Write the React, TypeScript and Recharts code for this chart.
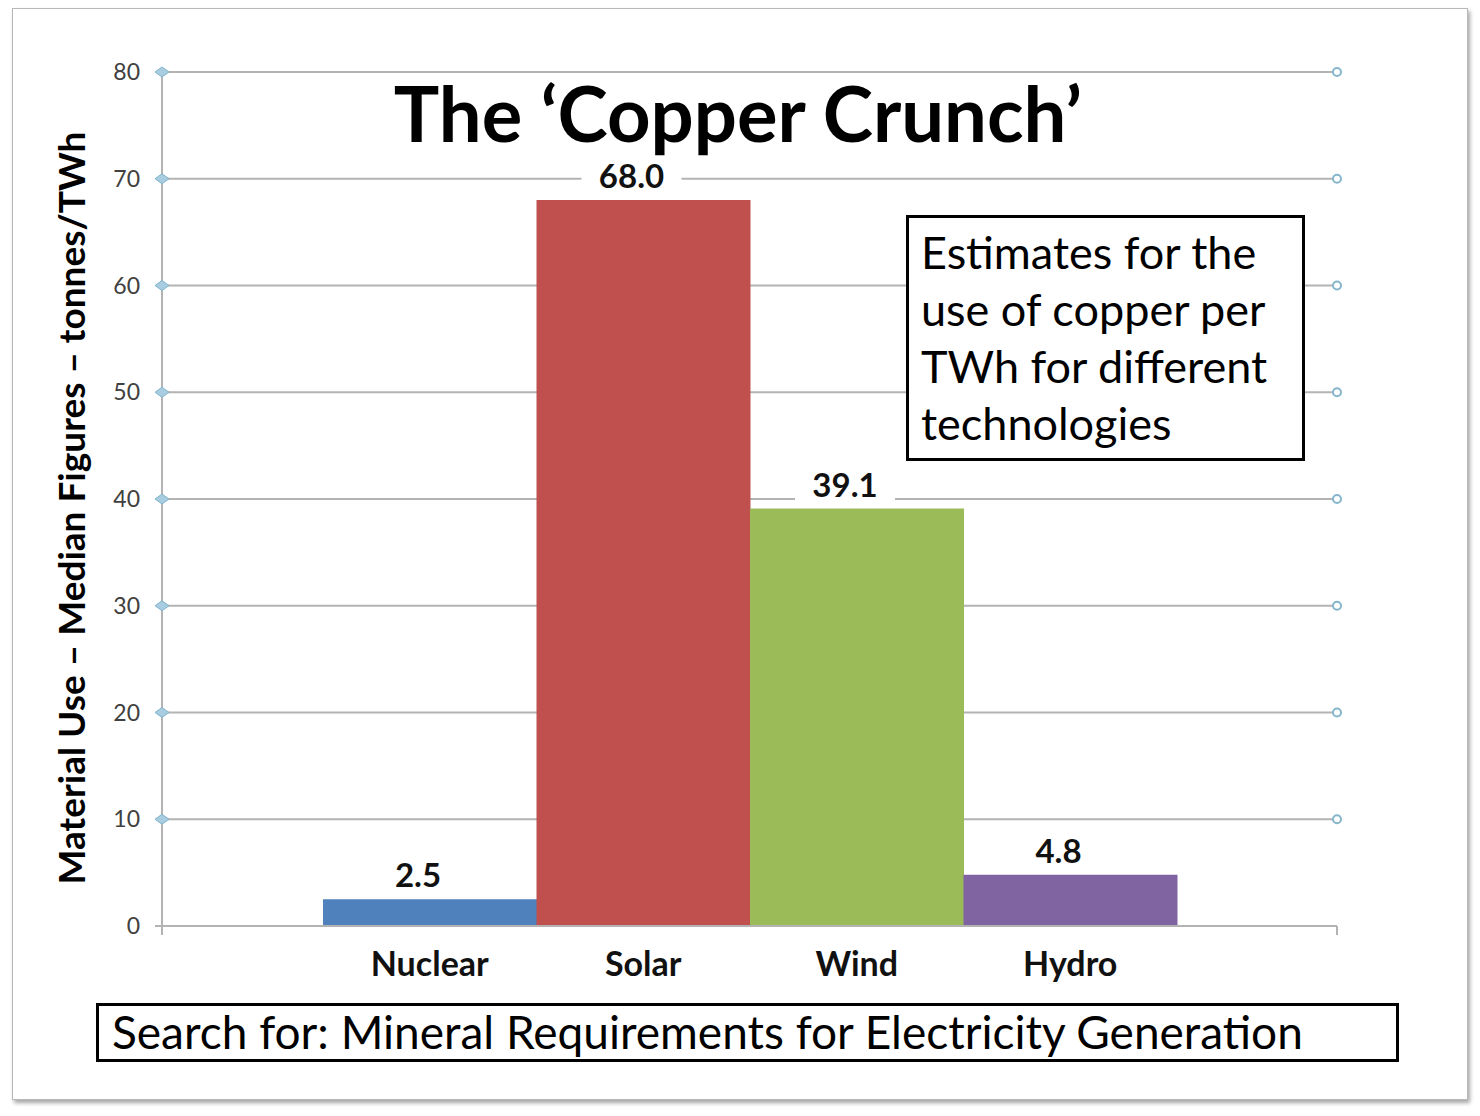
import React from "react";
import { BarChart, Bar, XAxis, YAxis, CartesianGrid, Cell, LabelList } from "recharts";

const technologies = ["Nuclear", "Solar", "Wind", "Hydro"];
const copperUse = [2.5, 68.0, 39.1, 4.8];
const barColors = ["#4f81bd", "#c0504d", "#9bbb59", "#8064a2"];
const yTicks = [0, 10, 20, 30, 40, 50, 60, 70, 80];

const chartTitle = "The \u2018Copper Crunch\u2019";
const yAxisTitle = "Material Use \u2013 Median Figures \u2013 tonnes/TWh";
const noteLines = ["Estimates for the", "use of copper per", "TWh for different", "technologies"];
const footerText = "Search for: Mineral Requirements for Electricity Generation";

const rows = technologies.map((name, i) => ({ name, value: copperUse[i], color: barColors[i] }));

const FONT = "Lato, 'Open Sans', sans-serif";
const GRID = "#b3b3b3";

function LeftTick({ x, y, payload }: any) {
  const isZero = payload.value === 0;
  return (
    <g>
      <text x={x - 22} y={y} dy={8} textAnchor="end" fontSize={23} fill="#404040" fontFamily={FONT}>
        {payload.value}
      </text>
      {isZero ? (
        <>
          <line x1={x - 7} y1={y} x2={x} y2={y} stroke={GRID} strokeWidth={2} />
          <line x1={x} y1={y} x2={x} y2={y + 9} stroke={GRID} strokeWidth={2} />
        </>
      ) : (
        <polygon
          points={`${x - 7},${y} ${x},${y - 5} ${x + 7},${y} ${x},${y + 5}`}
          fill="#a9cde0"
          stroke="#7fb3cc"
          strokeWidth={1}
        />
      )}
    </g>
  );
}

// gridline with the small circle marker at its right end (tick mark down on the base line)
function GridLine(props: any) {
  const { x1, y1, x2, y2, y, height } = props;
  const isBase = Math.abs(y1 - (y + height)) < 1;
  return (
    <g>
      <line x1={x1} y1={y1} x2={x2} y2={y2} stroke={GRID} strokeWidth={2} />
      {isBase ? (
        <line x1={x2} y1={y2} x2={x2} y2={y2 + 9} stroke={GRID} strokeWidth={2} />
      ) : (
        <circle cx={x2} cy={y2} r={4} fill="#ffffff" stroke="#86b6cc" strokeWidth={2} />
      )}
    </g>
  );
}

function CategoryTick({ x, y, payload }: any) {
  return (
    <text x={x} y={y} dy={42} textAnchor="middle" fontSize={34} fontWeight={700} fill="#111" fontFamily={FONT}>
      {payload.value}
    </text>
  );
}

function ValueLabel({ x, y, width, value }: any) {
  const cx = x + width / 2 - 12;
  const cy = y - 24;
  return (
    <g>
      <rect x={cx - 50} y={cy - 18} width={100} height={36} fill="#ffffff" />
      <text x={cx} y={cy} dy={12} textAnchor="middle" fontSize={33} fontWeight={700} fill="#111" fontFamily={FONT}>
        {Number(value).toFixed(1)}
      </text>
    </g>
  );
}

export default function App() {
  return (
    <div style={{ position: "absolute", left: 0, top: 0, width: 1480, height: 1116, background: "#ffffff", fontFamily: FONT }}>
      <div
        style={{
          position: "absolute",
          left: 12,
          top: 8,
          width: 1454,
          height: 1090,
          border: "1px solid #b8b8b8",
          boxShadow: "2px 3px 4px rgba(0,0,0,0.35)",
          background: "#ffffff",
        }}
      />
      <div style={{ position: "absolute", left: 0, top: 0 }}>
        <BarChart
          width={1480}
          height={1116}
          data={rows}
          barCategoryGap={0}
          margin={{ top: 72, right: 143, bottom: 150, left: 102 }}
        >
          <CartesianGrid vertical={false} horizontal={(p: any) => <GridLine key={p.key} {...p} />} />
          <XAxis
            dataKey="name"
            padding={{ left: 161, right: 160 }}
            height={40}
            axisLine={{ stroke: GRID, strokeWidth: 2 }}
            tickLine={false}
            tick={<CategoryTick />}
          />
          <YAxis
            domain={[0, 80]}
            ticks={yTicks}
            width={60}
            tickSize={0}
            tickMargin={0}
            axisLine={{ stroke: GRID, strokeWidth: 2 }}
            tickLine={false}
            tick={<LeftTick />}
          />
          <Bar dataKey="value" isAnimationActive={false}>
            {rows.map((r) => (
              <Cell key={r.name} fill={r.color} />
            ))}
            <LabelList dataKey="value" content={<ValueLabel />} />
          </Bar>
        </BarChart>
      </div>

      <div
        style={{
          position: "absolute",
          left: 738,
          top: 112,
          transform: "translate(-50%, -50%)",
          fontSize: 76,
          fontWeight: 700,
          color: "#000",
          whiteSpace: "nowrap",
        }}
      >
        {chartTitle}
      </div>

      <div
        style={{
          position: "absolute",
          left: 70,
          top: 508,
          transform: "translate(-50%, -50%) rotate(-90deg)",
          fontSize: 37,
          fontWeight: 700,
          color: "#000",
          whiteSpace: "nowrap",
        }}
      >
        {yAxisTitle}
      </div>

      <div
        style={{
          position: "absolute",
          left: 906,
          top: 215,
          width: 399,
          height: 246,
          border: "3px solid #000",
          background: "#ffffff",
          boxSizing: "border-box",
          padding: "6px 0 0 12px",
          fontSize: 45,
          lineHeight: "57px",
          color: "#000",
          whiteSpace: "nowrap",
        }}
      >
        {noteLines.map((l) => (
          <div key={l}>{l}</div>
        ))}
      </div>

      <div
        style={{
          position: "absolute",
          left: 96,
          top: 1003,
          width: 1303,
          height: 59,
          border: "3px solid #000",
          background: "#ffffff",
          boxSizing: "border-box",
          paddingLeft: 13,
          fontSize: 46,
          lineHeight: "52px",
          color: "#000",
          whiteSpace: "nowrap",
        }}
      >
        {footerText}
      </div>
    </div>
  );
}
